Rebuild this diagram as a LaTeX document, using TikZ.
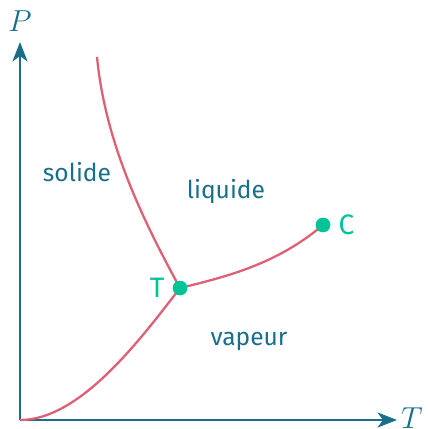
\documentclass[tikz,border=0pt]{standalone}
\usepackage{fontspec}
\setsansfont{Fira Sans}
\usetikzlibrary{arrows.meta}
\definecolor{axiscol}{RGB}{25,110,140}
\definecolor{curvecol}{RGB}{222,96,116}
\definecolor{pointcol}{RGB}{0,196,150}
\begin{document}
\begin{tikzpicture}[
        x=0.02cm, y=-0.02cm, % pixel grid of the reference
        axis/.style={draw=axiscol, line width=1.7pt, -{Stealth[length=11pt, width=8.5pt, inset=3pt]}},
        curve/.style={draw=curvecol, line width=1.3pt},
        pt/.style={circle, fill=pointcol, inner sep=0pt, minimum size=0.29cm},
        ptlabel/.style={text=pointcol, font=\sffamily\fontsize{16}{18}\selectfont},
        region/.style={text=axiscol, font=\sffamily\fontsize{14}{16}\selectfont},
        axlabel/.style={text=axiscol, inner sep=0pt, font=\fontsize{16}{18}\selectfont}
    ]
    \useasboundingbox (0,0) rectangle (427,429);

    % Axes
    \coordinate (O) at (20,420);
    \coordinate (ytip) at (20,42);
    \coordinate (xtip) at (397,420);
    \draw[axis] (O) -- (ytip);
    \draw[axis] (O) -- (xtip);
    \node[axlabel] (P) at (20,21) {$P$};
    \node[axlabel] (Tx) at (412,418) {$T$};

    % Triple and critical points
    \coordinate (top) at (97,57);
    \node[pt] (T) at (180,288) {};
    \node[pt] (C) at (323,225) {};

    % Coexistence curves
    \draw[curve] (top) .. controls (105,140) and (140,215) .. (T.center);
    \draw[curve] (O) .. controls (80,420) and (140,340) .. (T.center);
    \draw[curve] (T.center) .. controls (230,276) and (278,263) .. (C.center);
    \node[pt] at (T) {};
    \node[pt] at (C) {};

    % Labels
    \node[ptlabel, left=1pt] (Tlab) at (T.west) {T};
    \node[ptlabel, right=1pt] (Clab) at (C.east) {C};
    \node[region] (sol) at (77,172) {solide};
    \node[region] (liq) at (226,192) {liquide};
    \node[region] (vap) at (249,341) {vapeur};

    \end{tikzpicture}
\end{document}
